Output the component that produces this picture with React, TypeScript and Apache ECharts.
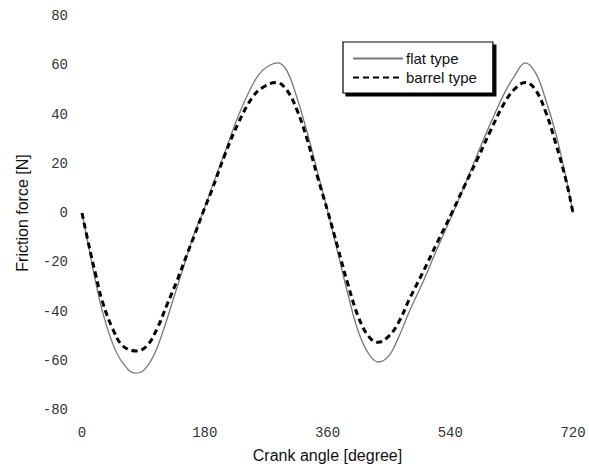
import React, { useEffect, useRef } from "react";
import * as echarts from "echarts";

const flatAngles = [0, 10, 20, 30, 45, 60, 78, 90, 105, 120, 135, 150, 165, 177, 190, 210, 230, 250, 265, 287, 300, 315, 330, 345, 361, 375, 390, 405, 420, 434, 450, 465, 480, 500, 520, 544, 560, 580, 600, 620, 635, 650, 665, 680, 695, 710, 720];
const flatValues = [0, -14, -28, -40, -53, -61, -65, -64, -58, -47, -34, -21, -8, 0, 10, 25, 40, 52, 58, 61, 58, 47, 33, 17, 0, -16, -33, -48, -57, -60.5, -58, -50, -40, -28, -15, 0, 10.5, 24, 37, 49, 56, 61, 57, 46, 32, 14, 0];

const barrelAngles = [0, 10, 20, 30, 45, 60, 80, 95, 110, 125, 140, 155, 165, 177, 190, 210, 230, 250, 265, 285, 300, 315, 330, 345, 361, 375, 390, 405, 420, 434, 450, 465, 480, 500, 520, 544, 560, 580, 600, 620, 635, 650, 665, 680, 695, 710, 720];
const barrelValues = [0, -13, -25, -36, -47, -54, -56, -54, -47, -37, -27, -16, -9, 0, 9, 24, 37, 47, 51, 53, 50, 42, 30, 15, 0, -14, -29, -42, -50, -52.5, -50, -44, -35, -24, -12.5, 1, 10.5, 22, 34, 45, 50.5, 53, 50, 41, 28, 13, 0];

const seriesNames = ["flat type", "barrel type"];
const xTitle = "Crank angle [degree]";
const yTitle = "Friction force [N]";

export default function App() {
  const ref = useRef<HTMLDivElement>(null);
  useEffect(() => {
    if (!ref.current) return;
    const chart = echarts.init(ref.current, null, { renderer: "svg" });
    const tickFont = { fontFamily: "Liberation Mono", fontSize: 14, color: "#333" };
    chart.setOption({
      animation: false,
      backgroundColor: "#fff",
      grid: { left: 82, right: 16, top: 16, bottom: 60 },
      legend: {
        orient: "vertical",
        left: 343,
        top: 42,
        padding: [9, 16, 8, 9],
        itemWidth: 50,
        itemHeight: 14,
        itemGap: 4,
        backgroundColor: "#fff",
        borderColor: "#000",
        borderWidth: 1.2,
        borderRadius: 0,
        shadowColor: "#000",
        shadowBlur: 0,
        shadowOffsetX: 3,
        shadowOffsetY: 3,
        itemStyle: { opacity: 0 },
        textStyle: { fontFamily: "Liberation Sans", fontSize: 15, color: "#111", padding: [0, 0, 0, -2] },
        data: seriesNames,
      },
      xAxis: {
        type: "value",
        min: 0,
        max: 720,
        interval: 180,
        name: xTitle,
        nameLocation: "middle",
        nameGap: 37,
        nameTextStyle: { fontFamily: "Liberation Sans", fontSize: 16, color: "#111" },
        axisLine: { show: false },
        axisTick: { show: false },
        splitLine: { show: false },
        axisLabel: { ...tickFont, margin: 16 },
      },
      yAxis: {
        type: "value",
        min: -80,
        max: 80,
        interval: 20,
        name: yTitle,
        nameLocation: "middle",
        nameGap: 52,
        nameTextStyle: { fontFamily: "Liberation Sans", fontSize: 16, color: "#111" },
        axisLine: { show: false },
        axisTick: { show: false },
        splitLine: { show: false },
        axisLabel: { ...tickFont, margin: 14 },
      },
      series: [
        {
          name: seriesNames[0],
          type: "line",
          smooth: 0.4,
          symbol: "none",
          lineStyle: { color: "#777", width: 1.3, type: "solid" },
          itemStyle: { color: "#777" },
          data: flatAngles.map((a, i) => [a, flatValues[i]]),
          z: 2,
        },
        {
          name: seriesNames[1],
          type: "line",
          smooth: 0.4,
          symbol: "none",
          lineStyle: { color: "#000", width: 3, type: [6, 4] },
          itemStyle: { color: "#000" },
          data: barrelAngles.map((a, i) => [a, barrelValues[i]]),
          z: 3,
        },
      ],
    });
    return () => chart.dispose();
  }, []);
  return <div ref={ref} style={{ width: 589, height: 470, position: "fixed", left: 0, top: 0 }} />;
}
